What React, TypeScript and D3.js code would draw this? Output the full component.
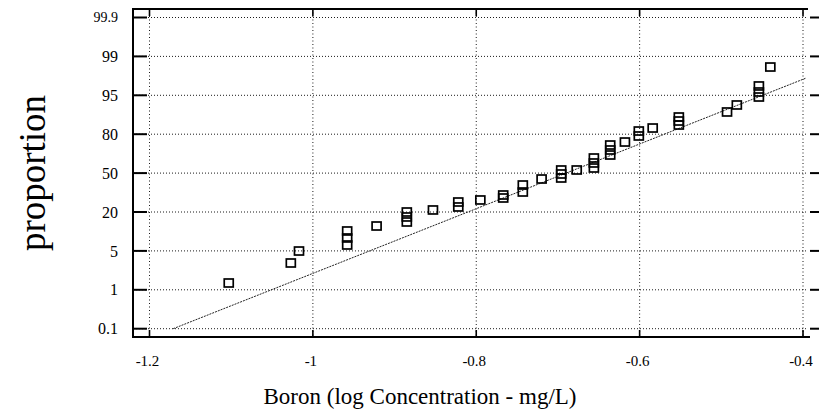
import React from "react";
import * as d3 from "d3";

// Tick values / labels
const xTicks = [-1.2, -1.0, -0.8, -0.6, -0.4];
const xTickLabels = ["-1.2", "-1", "-0.8", "-0.6", "-0.4"];
// y axis: evenly spaced probability grid (axis units 0..8)
const yTicks = [0, 1, 2, 3, 4, 5, 6, 7, 8];
const yTickLabels = ["0.1", "1", "5", "20", "50", "80", "95", "99", "99.9"];

// Observations: log concentration (x) and plotting position in axis units (y)
const obsX = [
  -1.103, -1.027, -1.017, -0.958, -0.958, -0.958, -0.922, -0.885, -0.885, -0.885,
  -0.853, -0.822, -0.822, -0.795, -0.767, -0.767, -0.743, -0.743, -0.72, -0.696,
  -0.696, -0.696, -0.677, -0.656, -0.656, -0.656, -0.636, -0.636, -0.636, -0.618,
  -0.601, -0.601, -0.584, -0.552, -0.552, -0.552, -0.493, -0.481, -0.454, -0.454,
  -0.454, -0.44,
];
const obsY = [
  1.175, 1.689, 1.997, 2.512, 2.332, 2.152, 2.64, 3.0, 2.872, 2.743,
  3.052, 3.257, 3.129, 3.309, 3.437, 3.36, 3.694, 3.514, 3.848, 4.08,
  3.977, 3.874, 4.08, 4.388, 4.26, 4.131, 4.722, 4.594, 4.465, 4.799,
  5.082, 4.954, 5.159, 5.442, 5.339, 5.236, 5.571, 5.751, 6.24, 6.085,
  5.956, 6.727,
];

// Fitted normal line endpoints
const fitX = [-1.171, -0.396];
const fitY = [0, 6.445];

const W = 819;
const H = 417;
const frameLeft = 133;
const frameRight = 808;
const frameTop = 9;
const frameBottom = 337;

export default function App() {
  const x = d3.scaleLinear().domain([-1.2, -0.4]).range([149.5, 803]);
  const y = d3.scaleLinear().domain([0, 8]).range([328.7, 17.5]);
  const fitLine = d3
    .line<number>()
    .x((_, i) => x(fitX[i]))
    .y((_, i) => y(fitY[i]));
  const serif = "'Liberation Serif', 'DejaVu Serif', serif";
  const sq = 9;
  return (
    <svg
      width={W}
      height={H}
      style={{ position: "absolute", left: 0, top: 0, background: "#fff" }}
      fontFamily={serif}
    >
      <rect x={0} y={0} width={W} height={H} fill="#fff" />
      {/* grid */}
      {yTicks.map((t) => (
        <line
          key={"gy" + t}
          x1={frameLeft}
          x2={frameRight}
          y1={y(t)}
          y2={y(t)}
          stroke="#000"
          strokeWidth={0.9}
          strokeDasharray="1,2"
        />
      ))}
      {xTicks.map((t) => (
        <line
          key={"gx" + t}
          x1={x(t)}
          x2={x(t)}
          y1={frameTop}
          y2={frameBottom}
          stroke="#000"
          strokeWidth={0.9}
          strokeDasharray="1,2.5"
        />
      ))}
      {/* frame */}
      <line x1={frameLeft} x2={frameLeft} y1={frameTop} y2={frameBottom + 1} stroke="#000" strokeWidth={2} />
      <line x1={frameLeft - 1} x2={frameRight + 2} y1={frameBottom} y2={frameBottom} stroke="#000" strokeWidth={2} />
      <line x1={frameLeft - 1} x2={frameRight} y1={frameTop} y2={frameTop} stroke="#000" strokeWidth={1.8} />
      {/* ticks */}
      {yTicks.map((t) => (
        <g key={"ty" + t}>
          <line x1={frameLeft} x2={frameLeft + 14} y1={y(t)} y2={y(t)} stroke="#000" strokeWidth={2} />
          <line x1={frameRight + 2} x2={W} y1={y(t)} y2={y(t)} stroke="#000" strokeWidth={2} />
        </g>
      ))}
      {xTicks.map((t) => (
        <g key={"tx" + t}>
          <line x1={x(t)} x2={x(t)} y1={frameBottom} y2={frameBottom - 7} stroke="#000" strokeWidth={1.6} />
          <line x1={x(t)} x2={x(t)} y1={frameTop} y2={frameTop + 7} stroke="#000" strokeWidth={1.6} />
        </g>
      ))}
      {/* tick labels */}
      {yTicks.map((t, i) => (
        <text
          key={"ly" + t}
          x={118}
          y={y(t)}
          dy="0.35em"
          textAnchor="end"
          fontSize={i === 8 ? 14 : 16}
          fill="#000"
        >
          {yTickLabels[i]}
        </text>
      ))}
      {xTicks.map((t, i) => (
        <text key={"lx" + t} x={x(t) - 2} y={366} textAnchor="middle" fontSize={15} fill="#000">
          {xTickLabels[i]}
        </text>
      ))}
      {/* fit line */}
      <path d={fitLine(fitX) || ""} fill="none" stroke="#222" strokeWidth={1} strokeDasharray="2,1" />
      {/* points */}
      {obsX.map((v, i) => (
        <rect
          key={"p" + i}
          x={x(v) - sq / 2}
          y={y(obsY[i]) - 4}
          width={sq}
          height={8}
          fill="none"
          stroke="#000"
          strokeWidth={1.7}
        />
      ))}
      {/* axis titles */}
      <text x={420} y={404} textAnchor="middle" fontSize={23} fill="#000">
        Boron (log Concentration - mg/L)
      </text>
      <text
        transform={`translate(45,173) rotate(-90)`}
        textAnchor="middle"
        fontSize={37}
        fill="#000"
      >
        proportion
      </text>
    </svg>
  );
}
